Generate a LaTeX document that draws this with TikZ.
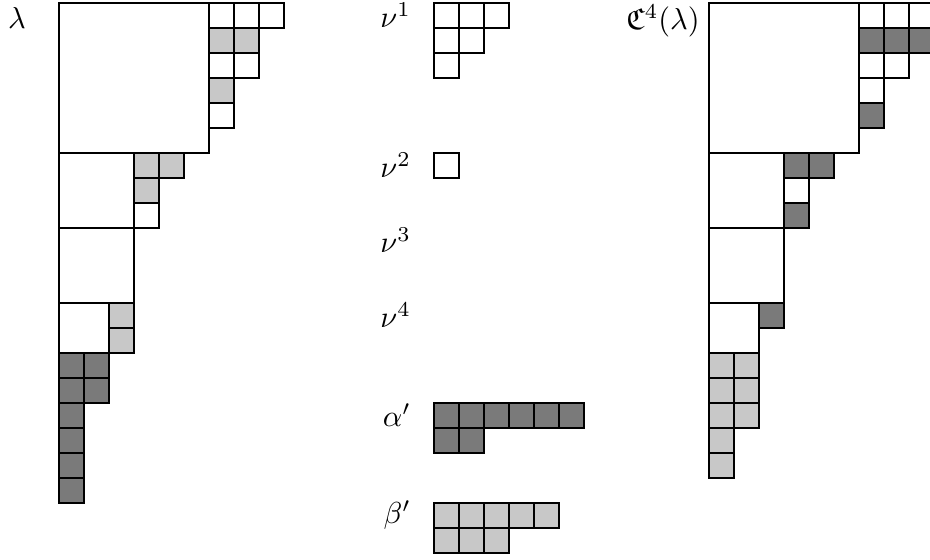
\documentclass[tikz,border=0pt]{standalone}
\usepackage{amsmath,amssymb}
\usetikzlibrary{positioning}
\definecolor{lightbox}{RGB}{200,200,200}
\definecolor{darkbox}{RGB}{122,122,122}

\begin{document}
\begin{tikzpicture}[x=0.29cm, y=-0.29cm,
    cell/.style={draw=black, line width=0.6pt, fill=white},
    light/.style={cell, fill=lightbox},
    dark/.style={cell, fill=darkbox},
    durfee/.style={draw=black, line width=0.6pt},
    lbl/.style={anchor=east, inner sep=0pt}]

    \useasboundingbox (-2.36,-0.12) rectangle (34.84,22.24);

    % lambda: Durfee squares
    \draw[durfee] (0,0) rectangle (6,6);
    \draw[durfee] (0,6) rectangle (3,9);
    \draw[durfee] (0,9) rectangle (3,12);
    \draw[durfee] (0,12) rectangle (2,14);

    % lambda: arms
    \foreach \x/\y in {6/0,7/0,8/0,6/2,7/2,6/4,3/8}
        \draw[cell] (\x,\y) rectangle ++(1,1);
    \foreach \x/\y in {6/1,7/1,6/3,3/6,4/6,3/7,2/12,2/13}
        \draw[light] (\x,\y) rectangle ++(1,1);

    % lambda: legs
    \foreach \x/\y in {0/14,1/14,0/15,1/15,0/16,0/17,0/18,0/19}
        \draw[dark] (\x,\y) rectangle ++(1,1);

    % nu^1 and nu^2
    \foreach \x/\y in {15/0,16/0,17/0,15/1,16/1,15/2,15/6}
        \draw[cell] (\x,\y) rectangle ++(1,1);

    % alpha'
    \foreach \x in {15,...,20}
        \draw[dark] (\x,16) rectangle ++(1,1);
    \foreach \x in {15,16}
        \draw[dark] (\x,17) rectangle ++(1,1);

    % beta'
    \foreach \x in {15,...,19}
        \draw[light] (\x,20) rectangle ++(1,1);
    \foreach \x in {15,16,17}
        \draw[light] (\x,21) rectangle ++(1,1);

    % C^4(lambda): Durfee squares
    \draw[durfee] (26,0) rectangle (32,6);
    \draw[durfee] (26,6) rectangle (29,9);
    \draw[durfee] (26,9) rectangle (29,12);
    \draw[durfee] (26,12) rectangle (28,14);

    % C^4(lambda): arms
    \foreach \x/\y in {32/0,33/0,34/0,32/2,33/2,32/3,29/7}
        \draw[cell] (\x,\y) rectangle ++(1,1);
    \foreach \x/\y in {32/1,33/1,34/1,32/4,29/6,30/6,29/8,28/12}
        \draw[dark] (\x,\y) rectangle ++(1,1);

    % C^4(lambda): legs
    \foreach \x/\y in {26/14,27/14,26/15,27/15,26/16,27/16,26/17,26/18}
        \draw[light] (\x,\y) rectangle ++(1,1);

    % Labels
    \node[lbl] (lam) at (-1.3,0.6) {$\lambda$};
    \node[lbl] (nu1) at (14.1,0.5) {$\nu^1$};
    \node[lbl] (nu2) at (14.1,6.5) {$\nu^2$};
    \node[lbl] (nu3) at (14.1,9.5) {$\nu^3$};
    \node[lbl] (nu4) at (14.1,12.5) {$\nu^4$};
    \node[lbl] (alpha) at (14.1,16.5) {$\alpha'$};
    \node[lbl] (beta) at (14.1,20.5) {$\beta'$};
    \node[lbl] (clam) at (25.65,0.7) {$\mathfrak{C}^4(\lambda)$};

\end{tikzpicture}
\end{document}
